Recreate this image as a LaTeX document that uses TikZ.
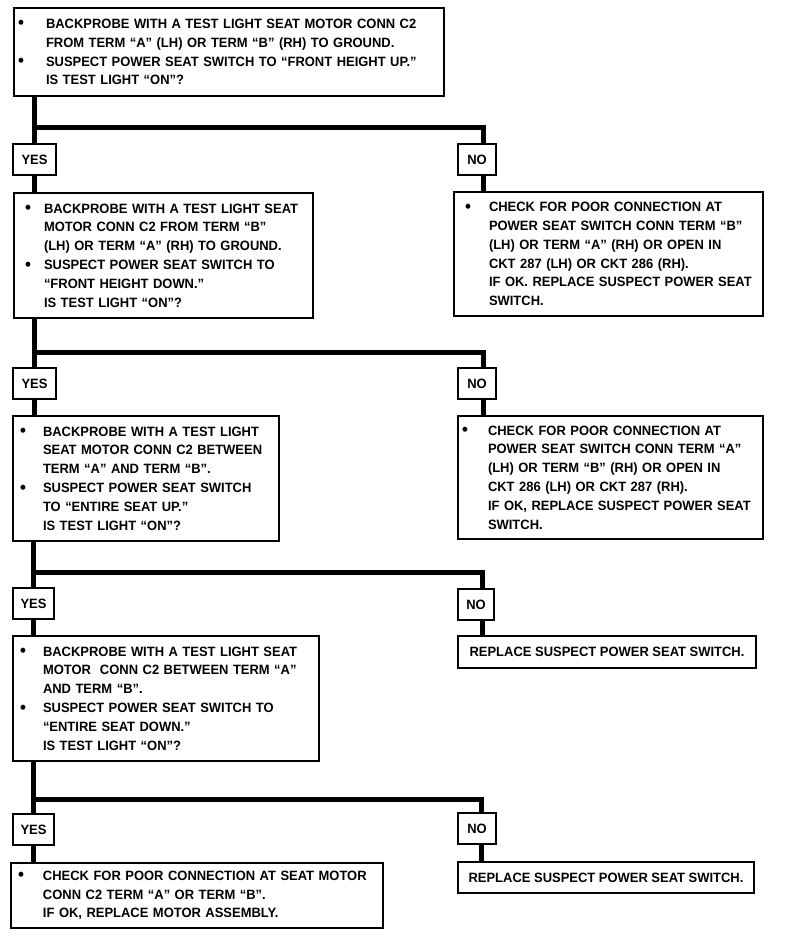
\documentclass[tikz,border=0pt]{standalone}
\usepackage{fontspec}
\setmainfont[FakeStretch=0.96]{Liberation Sans}
\newcommand\fs{\fontsize{13.5}{18.8}\selectfont\bfseries}
\newcommand\bu[2]{\makebox[#2][l]{\hspace*{#1}\raisebox{-0.5pt}{\scalebox{1.3}{\textbullet}}}}
\newcommand\ind[1]{\hspace*{#1}}
\tikzset{
  box/.style={draw, line width=2pt, anchor=north west, align=left,
              inner xsep=4pt, inner ysep=0pt, font=\fs},
  lbl/.style={draw, line width=2pt, anchor=north west, inner sep=0pt,
              minimum height=31pt, font=\fs},
  conn/.style={line width=5pt},
}
\begin{document}
\begin{tikzpicture}[x=1pt,y=-1pt]
\useasboundingbox[fill=white] (0,0) rectangle (784,936);

% main boxes
\node[box, text width=422pt, minimum height=88pt] (b1) at (13,7)
 {\bu{0pt}{28pt}BACKPROBE~WITH~A~TEST~LIGHT~SEAT~MOTOR~CONN~C2\\
  \ind{28pt}FROM~TERM~``A''~(LH)~OR~TERM~``B''~(RH)~TO~GROUND.\\
  \bu{0pt}{28pt}SUSPECT~POWER~SEAT~SWITCH~TO~``FRONT~HEIGHT~UP.''\\
  \ind{28pt}IS TEST LIGHT ``ON''?};

\node[box, text width=291pt, minimum height=125pt] (b2) at (13,192)
 {\bu{7pt}{26pt}BACKPROBE~WITH~A~TEST~LIGHT~SEAT\\
  \ind{26pt}MOTOR~CONN~C2~FROM~TERM~``B''\\
  \ind{26pt}(LH)~OR~TERM~``A''~(RH)~TO~GROUND.\\
  \bu{7pt}{26pt}SUSPECT~POWER~SEAT~SWITCH~TO\\
  \ind{26pt}``FRONT~HEIGHT~DOWN.''\\
  \ind{26pt}IS~TEST~LIGHT~``ON''?};

\node[box, text width=301pt, minimum height=124pt] (nb1) at (453,191)
 {\bu{7pt}{31pt}CHECK~FOR~POOR~CONNECTION~AT\\
  \ind{31pt}POWER~SEAT~SWITCH~CONN~TERM~``B''\\
  \ind{31pt}(LH)~OR~TERM~``A''~(RH)~OR~OPEN~IN\\
  \ind{31pt}CKT~287~(LH)~OR~CKT~286~(RH).\\
  \ind{31pt}IF~OK.~REPLACE~SUSPECT~POWER~SEAT\\
  \ind{31pt}SWITCH.};

\node[box, text width=258pt, minimum height=125pt] (b3) at (12,415)
 {\bu{3pt}{26pt}BACKPROBE~WITH~A~TEST~LIGHT\\
  \ind{26pt}SEAT~MOTOR~CONN~C2~BETWEEN\\
  \ind{26pt}TERM~``A''~AND~TERM~``B''.\\
  \bu{3pt}{26pt}SUSPECT~POWER~SEAT~SWITCH\\
  \ind{26pt}TO~``ENTIRE~SEAT~UP.''\\
  \ind{26pt}IS~TEST~LIGHT~``ON''?};

\node[box, text width=297pt, minimum height=123pt] (nb2) at (457,415)
 {\bu{0pt}{26pt}CHECK~FOR~POOR~CONNECTION~AT\\
  \ind{26pt}POWER~SEAT~SWITCH~CONN~TERM~``A''\\
  \ind{26pt}(LH)~OR~TERM~``B''~(RH)~OR~OPEN~IN\\
  \ind{26pt}CKT~286~(LH)~OR~CKT~287~(RH).\\
  \ind{26pt}IF~OK,~REPLACE~SUSPECT~POWER~SEAT\\
  \ind{26pt}SWITCH.};

\node[box, text width=298pt, minimum height=125pt] (b4) at (12,635)
 {\bu{3pt}{26pt}BACKPROBE~WITH~A~TEST~LIGHT~SEAT\\
  \ind{26pt}MOTOR~~CONN~C2~BETWEEN~TERM~``A''\\
  \ind{26pt}AND~TERM~``B''.\\
  \bu{3pt}{26pt}SUSPECT~POWER~SEAT~SWITCH~TO\\
  \ind{26pt}``ENTIRE~SEAT~DOWN.''\\
  \ind{26pt}IS~TEST~LIGHT~``ON''?};

\node[box, align=center, inner xsep=0pt, minimum width=298pt, minimum height=32pt] (nb3) at (457,635)
 {REPLACE SUSPECT POWER SEAT SWITCH.};

\node[box, text width=364pt, minimum height=65pt] (b5) at (10,862)
 {\bu{3pt}{28pt}CHECK~FOR~POOR~CONNECTION~AT~SEAT~MOTOR\\
  \ind{28pt}CONN~C2~TERM~``A''~OR~TERM~``B''.\\
  \ind{28pt}IF~OK,~REPLACE~MOTOR~ASSEMBLY.};

\node[box, align=center, inner xsep=0pt, minimum width=296pt, minimum height=31pt] (nb4) at (457,861)
 {REPLACE SUSPECT POWER SEAT SWITCH.};

% YES / NO labels
\node[lbl, minimum width=43pt] (y1) at (12,143) {YES};
\node[lbl, minimum width=38pt] (n1) at (457,143) {NO};
\node[lbl, minimum width=43pt] (y2) at (12,367) {YES};
\node[lbl, minimum width=38pt] (n2) at (457,367) {NO};
\node[lbl, minimum width=41pt] (y3) at (12,587) {YES};
\node[lbl, minimum width=36pt] (n3) at (457,588) {NO};
\node[lbl, minimum width=41pt] (y4) at (12,813) {YES};
\node[lbl, minimum width=38pt] (n4) at (457,812) {NO};

% branch levels
\coordinate (h1) at (0,128);
\coordinate (h2) at (0,352);
\coordinate (h3) at (0,572);
\coordinate (h4) at (0,799);

% connectors
\draw[conn] (b1.south -| y1.north) -- (y1.north);
\draw[conn] (h1 -| y1.north) -| ([xshift=6pt]n1.north);
\draw[conn] (y1.south) -- (b2.north -| y1.south);
\draw[conn] ([xshift=6pt]n1.south) -- ([xshift=6pt]n1.south |- nb1.north);

\draw[conn] (b2.south -| y2.north) -- (y2.north);
\draw[conn] (h2 -| y2.north) -| ([xshift=6pt]n2.north);
\draw[conn] (y2.south) -- (b3.north -| y2.south);
\draw[conn] ([xshift=6pt]n2.south) -- ([xshift=6pt]n2.south |- nb2.north);

\draw[conn] (b3.south -| y3.north) -- (y3.north);
\draw[conn] (h3 -| y3.north) -| ([xshift=6pt]n3.north);
\draw[conn] (y3.south) -- (b4.north -| y3.south);
\draw[conn] ([xshift=6pt]n3.south) -- ([xshift=6pt]n3.south |- nb3.north);

\draw[conn] (b4.south -| y4.north) -- (y4.north);
\draw[conn] (h4 -| y4.north) -| ([xshift=4pt]n4.north);
\draw[conn] (y4.south) -- (b5.north -| y4.south);
\draw[conn] ([xshift=4pt]n4.south) -- ([xshift=4pt]n4.south |- nb4.north);
\end{tikzpicture}
\end{document}
